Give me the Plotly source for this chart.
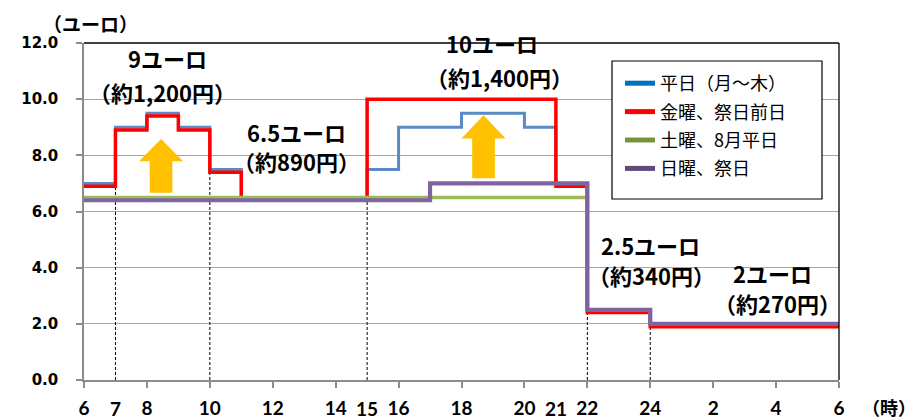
import plotly.graph_objects as go

# ---- data -------------------------------------------------------------
# step start hours (24 = midnight, 30 = 6 next morning); last value repeated to close the step
hours_weekday = [6, 7, 8, 9, 10, 11, 15, 16, 18, 20, 21, 22, 24, 30]
fare_weekday = [7.0, 9.0, 9.5, 9.0, 7.5, 6.5, 7.5, 9.0, 9.5, 9.0, 7.0, 2.5, 2.0, 2.0]

hours_friday = [6, 7, 8, 9, 10, 11, 15, 21, 22, 24, 30]
fare_friday = [6.9, 8.9, 9.4, 8.9, 7.4, 6.4, 10.0, 6.9, 2.4, 1.9, 1.9]

hours_saturday = [6, 22, 24, 30]
fare_saturday = [6.5, 2.5, 2.0, 2.0]

hours_sunday = [6, 17, 22, 24, 30]
fare_sunday = [6.4, 7.0, 2.5, 2.0, 2.0]

series_names = ["平日（月～木）", "金曜、祭日前日", "土曜、8月平日", "日曜、祭日"]
line_colors = ["#5A8AC6", "#FF0000", "#9BBB59", "#8064A2"]
legend_colors = ["#0070C0", "#FF0000", "#77933C", "#604A7B"]
line_widths = [3, 3.5, 3.5, 4.2]

# dashed reference lines (hour, top value)
dash_hours = [7, 10, 15, 22, 24]
dash_tops = [6.9, 7.45, 6.45, 2.45, 2.0]

# x tick labels
tick_vals = [6, 8, 10, 12, 14, 16, 18, 20, 22, 24, 26, 28, 30]
tick_text = ["6", "8", "10", "12", "14", "16", "18", "20", "22", "24", "2", "4", "6"]
extra_tick_vals = [7, 15, 21]
extra_tick_text = ["7", "15", "21"]

# price labels: (text, hour, value)
price_labels = [
    ("9ユーロ", 8.65, 11.46),
    ("（約1,200円）", 8.48, 10.25),
    ("6.5ユーロ", 12.74, 8.83),
    ("（約890円）", 12.77, 7.79),
    ("10ユーロ", 18.97, 11.99),
    ("（約1,400円）", 19.22, 10.78),
    ("2.5ユーロ", 24.02, 4.80),
    ("（約340円）", 24.05, 3.74),
    ("2ユーロ", 27.9, 3.81),
    ("（約270円）", 28.03, 2.74),
]

# up arrows: (centre hour, bottom, head base, tip)
arrows = [(8.45, 6.67, 7.79, 8.58), (18.7, 7.18, 8.6, 9.43)]

# ---- figure -----------------------------------------------------------
# The page body adds an 8px offset, so the figure is 8px smaller than the window.
OFF = 8
PLOT_L, PLOT_R, PLOT_T, PLOT_B = 84, 839, 43, 380   # plot area in window pixels
W, H = 916 - OFF, 419 - OFF
L, T = PLOT_L - OFF, PLOT_T - OFF
R, B = 916 - PLOT_R, 419 - PLOT_B
PW, PH = PLOT_R - PLOT_L, PLOT_B - PLOT_T


def px_to_paper(px, py):
    return (px - PLOT_L) / PW, (PLOT_B - py) / PH


fig = go.Figure()

for h, t in zip(dash_hours, dash_tops):
    fig.add_trace(go.Scatter(x=[h, h], y=[0, t], mode="lines",
                             line=dict(color="black", width=1, dash="3px,2px"),
                             showlegend=False, hoverinfo="skip"))

all_series = [(hours_weekday, fare_weekday), (hours_friday, fare_friday),
              (hours_saturday, fare_saturday), (hours_sunday, fare_sunday)]
for (xs, ys), name, col, w in zip(all_series, series_names, line_colors, line_widths):
    fig.add_trace(go.Scatter(x=xs, y=ys, mode="lines", line_shape="hv",
                             line=dict(color=col, width=w), name=name,
                             showlegend=False))

# legend-only entries (legend swatches are darker in the original)
for i, (name, col) in enumerate(zip(series_names, legend_colors)):
    fig.add_trace(go.Scatter(x=[None], y=[None], mode="lines",
                             line=dict(color=col, width=5), name=name,
                             legendgroup=f"g{i}", showlegend=True))

shapes = []
for cx, yb, yh, yt in arrows:
    sw, hw = 0.36, 0.70
    path = (f"M{cx - sw},{yb} L{cx + sw},{yb} L{cx + sw},{yh} L{cx + hw},{yh} "
            f"L{cx},{yt} L{cx - hw},{yh} L{cx - sw},{yh} Z")
    shapes.append(dict(type="path", path=path, xref="x", yref="y",
                       fillcolor="#FFC000", line=dict(width=0), layer="above"))

# plot frame (top and right black)
shapes.append(dict(type="line", xref="paper", yref="paper", x0=0, x1=1, y0=1, y1=1,
                   line=dict(color="black", width=1.3)))
shapes.append(dict(type="line", xref="paper", yref="paper", x0=1, x1=1, y0=0, y1=1,
                   line=dict(color="black", width=1.3)))
# legend box
bx0, by1 = px_to_paper(612, 61)
bx1, by0 = px_to_paper(822, 199)
shapes.append(dict(type="rect", xref="paper", yref="paper",
                   x0=bx0, x1=bx1, y0=by0, y1=by1,
                   fillcolor="white", line=dict(color="black", width=1.2), layer="above"))

annotations = []
jp_bold = dict(family="Noto Sans CJK JP", size=22, color="black", weight="bold")
for text, x, y in price_labels:
    annotations.append(dict(text=text, x=x, y=y, xref="x", yref="y",
                            xanchor="center", yanchor="middle",
                            showarrow=False, font=jp_bold))
for v, t in zip(extra_tick_vals, extra_tick_text):
    annotations.append(dict(text=t, x=v, y=-0.045, xref="x", yref="paper",
                            xanchor="center", yanchor="top", showarrow=False,
                            font=dict(family="Lato", size=19, color="black", weight="bold")))
ux, uy = px_to_paper(90, 24)
annotations.append(dict(text="（ユーロ）", x=ux, y=uy, xref="paper", yref="paper",
                        xanchor="center", yanchor="middle", showarrow=False,
                        font=dict(family="Noto Sans CJK JP", size=19, color="black", weight="bold")))
hx, hy = px_to_paper(889, 407)
annotations.append(dict(text="（時）", x=hx, y=hy, xref="paper", yref="paper",
                        xanchor="center", yanchor="middle", showarrow=False,
                        font=dict(family="Noto Sans CJK JP", size=18, color="black", weight="bold")))

lx, ly = px_to_paper(620, 65)
fig.update_layout(
    width=W, height=H,
    margin=dict(l=L, r=R, t=T, b=B, autoexpand=False),
    paper_bgcolor="white", plot_bgcolor="white",
    shapes=shapes, annotations=annotations,
    legend=dict(x=lx, y=ly, xanchor="left", yanchor="top",
                bgcolor="rgba(0,0,0,0)", borderwidth=0, tracegroupgap=2,
                font=dict(family="Noto Sans CJK JP", size=18, color="black")),
)
fig.update_xaxes(range=[6, 30], tickvals=tick_vals, ticktext=tick_text,
                 automargin=False,
                 showgrid=False, zeroline=False, showline=True,
                 linecolor="#8C8C8C", linewidth=1.5,
                 ticks="outside", ticklen=6, tickcolor="#8C8C8C", tickwidth=1.5,
                 ticklabelstandoff=4,
                 tickfont=dict(family="Lato", size=19, color="black", weight="bold"))
fig.update_yaxes(range=[0, 12], dtick=2, tickformat=".1f",
                 automargin=False,
                 showgrid=True, gridcolor="#A6A6A6", gridwidth=1.2,
                 zeroline=False, showline=True, linecolor="#8C8C8C", linewidth=1.5,
                 ticks="outside", ticklen=6, tickcolor="#8C8C8C", tickwidth=1.5,
                 ticklabelstandoff=15,
                 tickfont=dict(family="DejaVu Sans", size=15, color="black", weight="bold"))

fig.write_html("out.html")
